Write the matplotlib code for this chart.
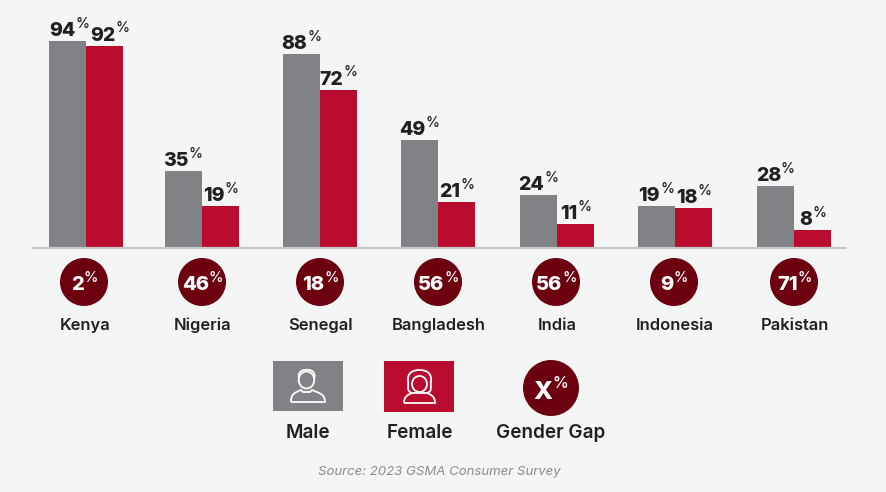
import numpy as np
import matplotlib
matplotlib.use('Agg')
import matplotlib.pyplot as plt
from matplotlib.patches import Circle, Ellipse, Rectangle, PathPatch
from matplotlib.path import Path

plt.rcParams['font.family'] = ['Inter', 'DejaVu Sans']

countries = ['Kenya', 'Nigeria', 'Senegal', 'Bangladesh', 'India', 'Indonesia', 'Pakistan']
male = [94, 35, 88, 49, 24, 19, 28]
female = [92, 19, 72, 21, 11, 18, 8]
gap = [2, 46, 18, 56, 56, 9, 71]

BG = '#F4F6F6'
GREY = '#808285'
RED = '#BA0C2F'
DARK = '#6C000F'
INK = '#231F20'

fig = plt.figure(figsize=(8.86, 4.92), dpi=100, facecolor=BG)

# bars axes: top of figure down to the baseline at y=248px
ax = fig.add_axes([0, 1 - 248 / 492, 1, 248 / 492])
ax.set_facecolor('none')
spacing = 118.0
ax.set_xlim(-84 / spacing, (886 - 84) / spacing)
ax.set_ylim(0, 248 / 2.2)
ax.axis('off')

# overlay in pixel units for the things under the chart
px = fig.add_axes([0, 0, 1, 1])
px.set_facecolor('none')
px.set_xlim(0, 886)
px.set_ylim(492, 0)
px.axis('off')

w = 37.4 / spacing
# groups are not quite evenly spaced in the original
nudge = np.array([2, 0, 0, 0, 1, 1, 2]) / spacing
x = np.arange(len(countries)) + nudge
ax.bar(x - w / 2, male, w, color=GREY, linewidth=0, zorder=3)
ax.bar(x + w / 2, female, w, color=RED, linewidth=0, zorder=3)
px.plot([33, 845], [248, 248], color='#C4C6C7', lw=1.6, zorder=1)


def pct_label(axis, xv, yv, num, size, color, dx=0, dy=0, sup=None):
    # number + small raised %, centred together on xv
    sup = sup or size * 0.72
    t = axis.annotate(str(num), (xv, yv), xytext=(0, dy), textcoords='offset pixels',
                      fontsize=size, fontweight=800, color=color,
                      ha='left', va='baseline', zorder=6)
    p = axis.annotate('%', (xv, yv), xytext=(0, dy), textcoords='offset pixels',
                      fontsize=sup, fontweight='medium', color=color,
                      ha='left', va='baseline', zorder=6)
    fig.canvas.draw()
    bt = t.get_window_extent()
    bp = p.get_window_extent()
    left = dx - (bt.width + bp.width) / 2
    t.xyann = (left, dy)
    p.xyann = (left + bt.width, dy + bt.height * 0.46)


for i in range(len(countries)):
    # Kenya's labels would collide, so they sit a little apart
    pct_label(ax, x[i] - w / 2, male[i], male[i], 14, INK, dx=2.5 if i == 0 else 0, dy=5)
    pct_label(ax, x[i] + w / 2, female[i], female[i], 14, INK, dx=5 if i == 0 else 0, dy=5)

    cx = 84 + spacing * i + (2 if i == 6 else 0)
    px.add_patch(Circle((cx, 282), 24, fc=DARK, ec='none', zorder=4))
    pct_label(px, cx, 290.5, gap[i], 14.5, 'white', dx=0.5, sup=10.5)
    px.text(cx + 1, 330, countries[i], ha='center', va='baseline', fontsize=11.9,
            fontweight='semibold', color=INK)

# legend
px.add_patch(Rectangle((273, 361), 70, 50, fc=GREY, ec='none'))
px.add_patch(Rectangle((384, 361), 70, 51, fc=RED, ec='none'))
px.add_patch(Circle((551, 388), 28, fc=DARK, ec='none'))
pct_label(px, 551, 399, 'X', 18, 'white', sup=11.5)


def outline(verts, codes):
    px.add_patch(PathPatch(Path(verts, codes), fc='none', ec='white', lw=1.3, zorder=5))


M, L, C = Path.MOVETO, Path.LINETO, Path.CURVE4

# man
px.add_patch(Ellipse((306.5, 380), 15.5, 17, fc='none', ec='white', lw=1.3, zorder=5))
outline([(299, 378), (297, 371), (304, 369), (309, 370), (313, 370), (316, 374), (314, 379)],
        [M, C, C, C, C, C, C])
outline([(291, 402), (291, 394), (294, 393), (301, 390), (303, 392), (310, 392), (312, 390),
         (319, 393), (325, 394), (325, 402), (291, 402)],
        [M, C, C, C, L, L, L, C, C, C, L])

# woman
px.add_patch(Ellipse((419.5, 384), 15, 16, fc='none', ec='white', lw=1.3, zorder=5))
outline([(412, 393), (406, 391), (409, 387), (408, 381), (407, 372), (414, 370), (419.5, 370),
         (425, 370), (432, 372), (431, 381), (430, 387), (433, 391), (427, 393)],
        [M, C, C, C, C, C, C, C, C, C, C, C, C])
outline([(404, 403), (404, 397), (407, 395), (412, 393), (415, 393), (424, 393), (427, 393),
         (432, 395), (435, 397), (435, 403), (404, 403)],
        [M, C, C, C, L, L, L, C, C, C, L])

for lx, name in [(307.5, 'Male'), (419.5, 'Female'), (551, 'Gender Gap')]:
    px.text(lx, 438.5, name, ha='center', va='baseline', fontsize=13.6,
            fontweight='semibold', color=INK)

px.text(439, 471.5, 'Source: 2023 GSMA Consumer Survey', ha='center', va='center',
        fontsize=9.5, style='italic', color='#8A8C8E')

fig.savefig('out.png', dpi=100, facecolor=BG)
